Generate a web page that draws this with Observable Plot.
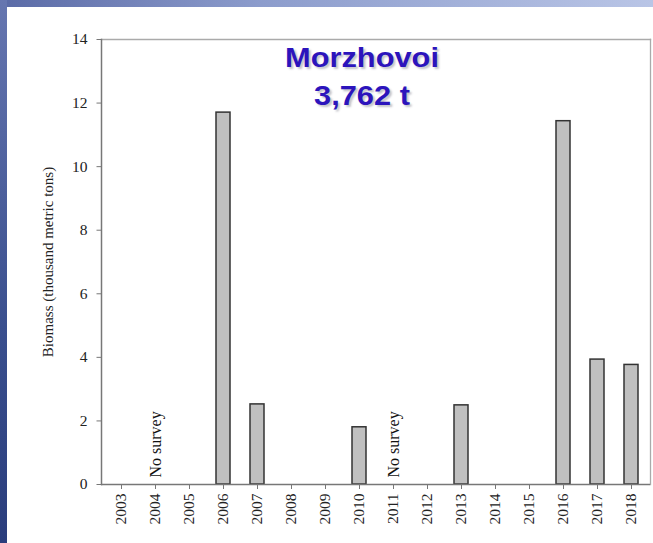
<!DOCTYPE html>
<html>
<head>
<meta charset="utf-8">
<script src="https://cdn.jsdelivr.net/npm/d3@7"></script>
<script src="https://cdn.jsdelivr.net/npm/@observablehq/plot@0.6"></script>
<style>
  html, body { margin: 0; padding: 0; background: #fff; }
  #slide { position: relative; width: 653px; height: 543px; overflow: hidden; background: #fff; }
  #topbar { position: absolute; left: 0; top: 0; width: 653px; height: 7px;
    background: linear-gradient(to right, #5a6aa6, #8c9ccc 40%, #b9c5e6); z-index: 2; }
  #leftbar { position: absolute; left: 0; top: 0; width: 7px; height: 543px;
    background: linear-gradient(to bottom, #6676b0, #3a4f8e 60%, #2a3d7c); z-index: 3; }
  #chart { position: absolute; left: 0; top: 0; z-index: 1; }
  #title { position: absolute; left: 212px; top: 38px; width: 300px; z-index: 4;
    text-align: center; font-family: 'Liberation Sans', Arial, sans-serif; font-weight: bold;
    font-size: 28.5px; line-height: 38px; color: #2c14bc;
    transform: scaleX(1.08); transform-origin: 150px 0;
    text-shadow: 2px 2px 2px rgba(60, 60, 80, 0.3); }
</style>
</head>
<body>
<div id="slide">
  <div id="topbar"></div>
  <div id="leftbar"></div>
  <div id="chart"></div>
  <div id="title"></div>
</div>
<script>
const years = ["2003","2004","2005","2006","2007","2008","2009","2010","2011","2012","2013","2014","2015","2016","2017","2018"];
const biomass = [null, null, null, 11.70, 2.52, null, null, 1.80, null, null, 2.49, null, null, 11.43, 3.93, 3.762];
const noSurveyYears = ["2004", "2011"];
const noSurveyText = "No survey";
const yTicks = [0, 2, 4, 6, 8, 10, 12, 14];
const titleLines = ["Morzhovoi", "3,762 t"];
const yLabel = "Biomass (thousand metric tons)";

const data = years.map((year, i) => ({year, biomass: biomass[i]}));
const bars = data.filter(d => d.biomass != null && d.biomass > 0);

const serif = "'Liberation Serif', 'Times New Roman', serif";

const chart = Plot.plot({
  width: 653,
  height: 543,
  marginLeft: 101,
  marginRight: 3,
  marginTop: 39,
  marginBottom: 59,
  style: { background: "transparent", fontFamily: serif, fontSize: "15px", color: "#222" },
  x: { domain: years, paddingInner: 0.59, paddingOuter: 0.295 },
  y: { domain: [0, 14], ticks: yTicks },
  marks: [
    Plot.frame({ anchor: "top", stroke: "#aaa", strokeWidth: 1.3 }),
    Plot.frame({ anchor: "right", stroke: "#aaa", strokeWidth: 1.3 }),
    Plot.frame({ anchor: "left", stroke: "#777", strokeWidth: 1.5 }),
    Plot.barY(bars, { x: "year", y: "biomass", fill: "#c0c0c0", stroke: "#333", strokeWidth: 1.5 }),
    Plot.ruleY([0], { stroke: "#777", strokeWidth: 1.5 }),
    Plot.axisY({ ticks: yTicks, tickSize: 4.5, stroke: "#777", label: null, tickFormat: () => "" }),
    Plot.axisX({ tickSize: 5, stroke: "#777", label: null, tickFormat: () => "" }),
    Plot.text(yTicks, { y: d => d, text: d => String(d), frameAnchor: "left", textAnchor: "end", lineAnchor: "middle", dx: -14, fontSize: 15.5, fontFamily: serif, fill: "#222" }),
    Plot.text(years, { x: d => d, text: d => d, frameAnchor: "bottom", rotate: -90, textAnchor: "end", lineAnchor: "middle", dy: 9, fontSize: 15.5, fontFamily: serif, fill: "#222" }),
    Plot.text(noSurveyYears, { x: d => d, y: () => 0, text: () => noSurveyText, rotate: -90, textAnchor: "start", lineAnchor: "middle", dy: -7, fontSize: 16, fontFamily: serif, fill: "#111" }),
    Plot.text([yLabel], { frameAnchor: "left", rotate: -90, textAnchor: "middle", lineAnchor: "middle", dx: -53, fontSize: 15, fontFamily: serif, fill: "#222" })
  ]
});
document.getElementById("chart").appendChild(chart);
const title = document.getElementById("title");
titleLines.forEach(line => { const d = document.createElement("div"); d.textContent = line; title.appendChild(d); });
</script>
</body>
</html>
